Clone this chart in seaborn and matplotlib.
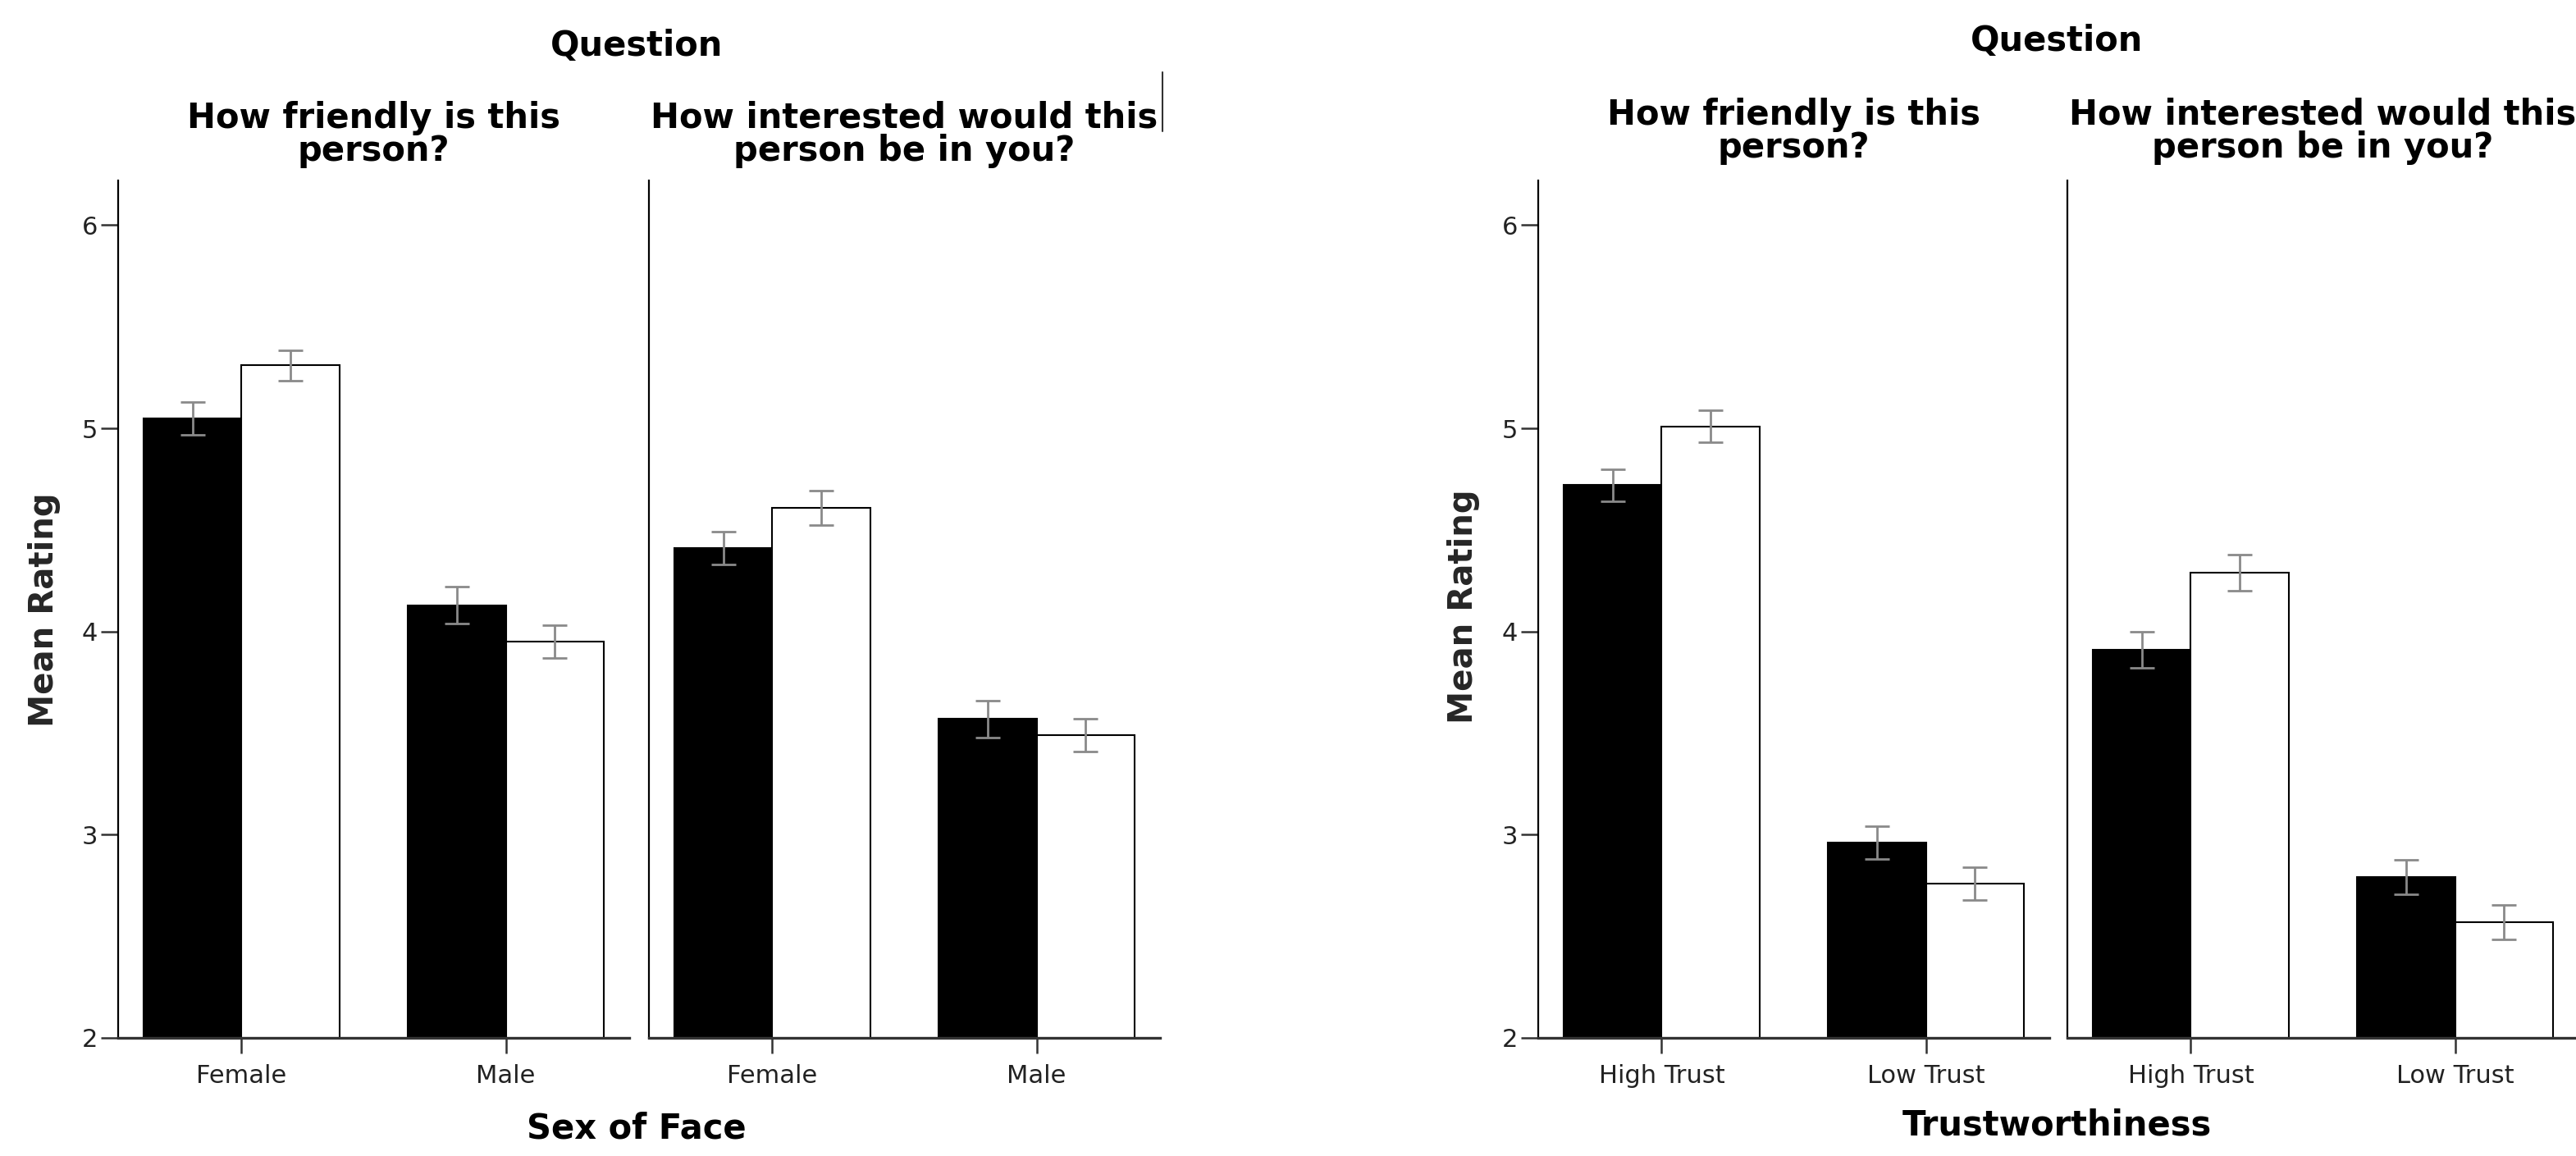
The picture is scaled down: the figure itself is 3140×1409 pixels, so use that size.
import numpy as np
import pandas as pd
import matplotlib
matplotlib.use("Agg")
import matplotlib.pyplot as plt
from matplotlib.lines import Line2D
import seaborn as sns

# ---------------- data ----------------
questions = ["How friendly is this\nperson?", "How interested would this\nperson be in you?"]
groups = ["Group 1", "Group 2"]            # black bars, white bars

sex_levels = ["Female", "Male"]
sex_friendly_g1 = [5.05, 4.13]
sex_friendly_g2 = [5.31, 3.95]
sex_interest_g1 = [4.41, 3.57]
sex_interest_g2 = [4.61, 3.49]
sex_friendly_err_g1 = [0.08, 0.09]
sex_friendly_err_g2 = [0.075, 0.08]
sex_interest_err_g1 = [0.08, 0.09]
sex_interest_err_g2 = [0.085, 0.08]

trust_levels = ["High Trust", "Low Trust"]
trust_friendly_g1 = [4.72, 2.96]
trust_friendly_g2 = [5.01, 2.76]
trust_interest_g1 = [3.91, 2.79]
trust_interest_g2 = [4.29, 2.57]
trust_friendly_err_g1 = [0.08, 0.08]
trust_friendly_err_g2 = [0.08, 0.08]
trust_interest_err_g1 = [0.09, 0.085]
trust_interest_err_g2 = [0.09, 0.085]

y_ticks = [2, 3, 4, 5, 6]


def build(levels, col, vals, errs):
    rows = []
    for q, (g1, g2), (e1, e2) in zip(questions, vals, errs):
        for lvl, v, e in zip(levels, g1, e1):
            rows.append({"Question": q, col: lvl, "Group": groups[0], "Mean Rating": v, "err": e})
        for lvl, v, e in zip(levels, g2, e2):
            rows.append({"Question": q, col: lvl, "Group": groups[1], "Mean Rating": v, "err": e})
    return pd.DataFrame(rows)


df_sex = build(sex_levels, "Sex of Face",
               [(sex_friendly_g1, sex_friendly_g2), (sex_interest_g1, sex_interest_g2)],
               [(sex_friendly_err_g1, sex_friendly_err_g2), (sex_interest_err_g1, sex_interest_err_g2)])
df_trust = build(trust_levels, "Trustworthiness",
                 [(trust_friendly_g1, trust_friendly_g2), (trust_interest_g1, trust_interest_g2)],
                 [(trust_friendly_err_g1, trust_friendly_err_g2), (trust_interest_err_g1, trust_interest_err_g2)])

# ---------------- style ----------------
sns.set_theme(style="white")
plt.rcParams["font.family"] = ["DejaVu Sans"]

W, H = 3140, 1409
fig = plt.figure(figsize=(W / 100, H / 100), dpi=100)
fig.patch.set_facecolor("white")

bottom = 1 - 1265 / H
height = (1265 - 220) / H
width = (767 - 144) / W
lefts = [144 / W, 791 / W, 1875 / W, 2520 / W]

palette = {groups[0]: "black", groups[1]: "white"}


def draw(ax, data, col, levels, first):
    sns.barplot(data=data, x=col, y="Mean Rating", hue="Group", order=levels,
                hue_order=groups, palette=palette, edgecolor="black", linewidth=1.5,
                width=0.74, errorbar=None, legend=False, ax=ax, zorder=2)
    bar_conts = list(ax.containers)
    for gi, cont in enumerate(bar_conts):
        sub = data[data["Group"] == groups[gi]].set_index(col).loc[levels]
        xs = [b.get_x() + b.get_width() / 2 for b in cont]
        ax.errorbar(xs, sub["Mean Rating"].values, yerr=sub["err"].values, fmt="none",
                    ecolor="#8a8a8a", elinewidth=2.0, capsize=11, capthick=2.0, zorder=4)
    ax.set_ylim(2, 6.22)
    ax.set_xlim(-0.467, 1.467)
    ax.set_xlabel("")
    ax.set_ylabel("")
    ax.set_facecolor("white")
    for s in ["top", "right"]:
        ax.spines[s].set_visible(False)
    ax.spines["left"].set_color("black")
    ax.spines["left"].set_linewidth(1.6)
    ax.spines["bottom"].set_color("#333333")
    ax.spines["bottom"].set_linewidth(2.4)
    ax.spines["bottom"].set_zorder(5)
    ax.tick_params(axis="x", direction="out", length=14, width=1.8, color="#333333",
                   labelsize=22, pad=9, bottom=True, labelcolor="#222222")
    ax.set_yticks(y_ticks)
    if first:
        ax.tick_params(axis="y", direction="out", length=15, width=1.8, color="#333333",
                       labelsize=22, pad=3, left=True, labelcolor="#222222")
    else:
        ax.tick_params(axis="y", left=False, labelleft=False)
    ax.grid(False)


axes = []
for left in lefts:
    axes.append(fig.add_axes([left, bottom, width, height]))

draw(axes[0], df_sex[df_sex["Question"] == questions[0]], "Sex of Face", sex_levels, True)
draw(axes[1], df_sex[df_sex["Question"] == questions[1]], "Sex of Face", sex_levels, False)
draw(axes[2], df_trust[df_trust["Question"] == questions[0]], "Trustworthiness", trust_levels, True)
draw(axes[3], df_trust[df_trust["Question"] == questions[1]], "Trustworthiness", trust_levels, False)

# ---------------- text ----------------
title_kw = dict(fontsize=30, fontweight="bold", ha="center", va="center", color="black")
fig.text(776 / W, 1 - 56 / H, "Question", **title_kw)
fig.text(2507 / W, 1 - 50 / H, "Question", **title_kw)

for i, (ax, yc) in enumerate(zip(axes, [164, 164, 160, 160])):
    pos = ax.get_position()
    fig.text(pos.x0 + pos.width / 2, 1 - yc / H, questions[i % 2],
             linespacing=0.95, **title_kw)

fig.text(776 / W, 1 - 1376 / H, "Sex of Face", **title_kw)
fig.text(2507 / W, 1 - 1372 / H, "Trustworthiness", **title_kw)

ylab_kw = dict(fontsize=29, fontweight="bold", ha="center", va="center", rotation=90)
fig.text(54 / W, 1 - 743 / H, "Mean Rating", **ylab_kw)
fig.text(1784 / W, 1 - 739 / H, "Mean Rating", **ylab_kw)

# small vertical rule next to the second facet title
fig.add_artist(Line2D([1417 / W, 1417 / W], [1 - 88 / H, 1 - 160 / H], color="#333333", lw=1.5))

fig.savefig("out.png", dpi=100, facecolor="white")
